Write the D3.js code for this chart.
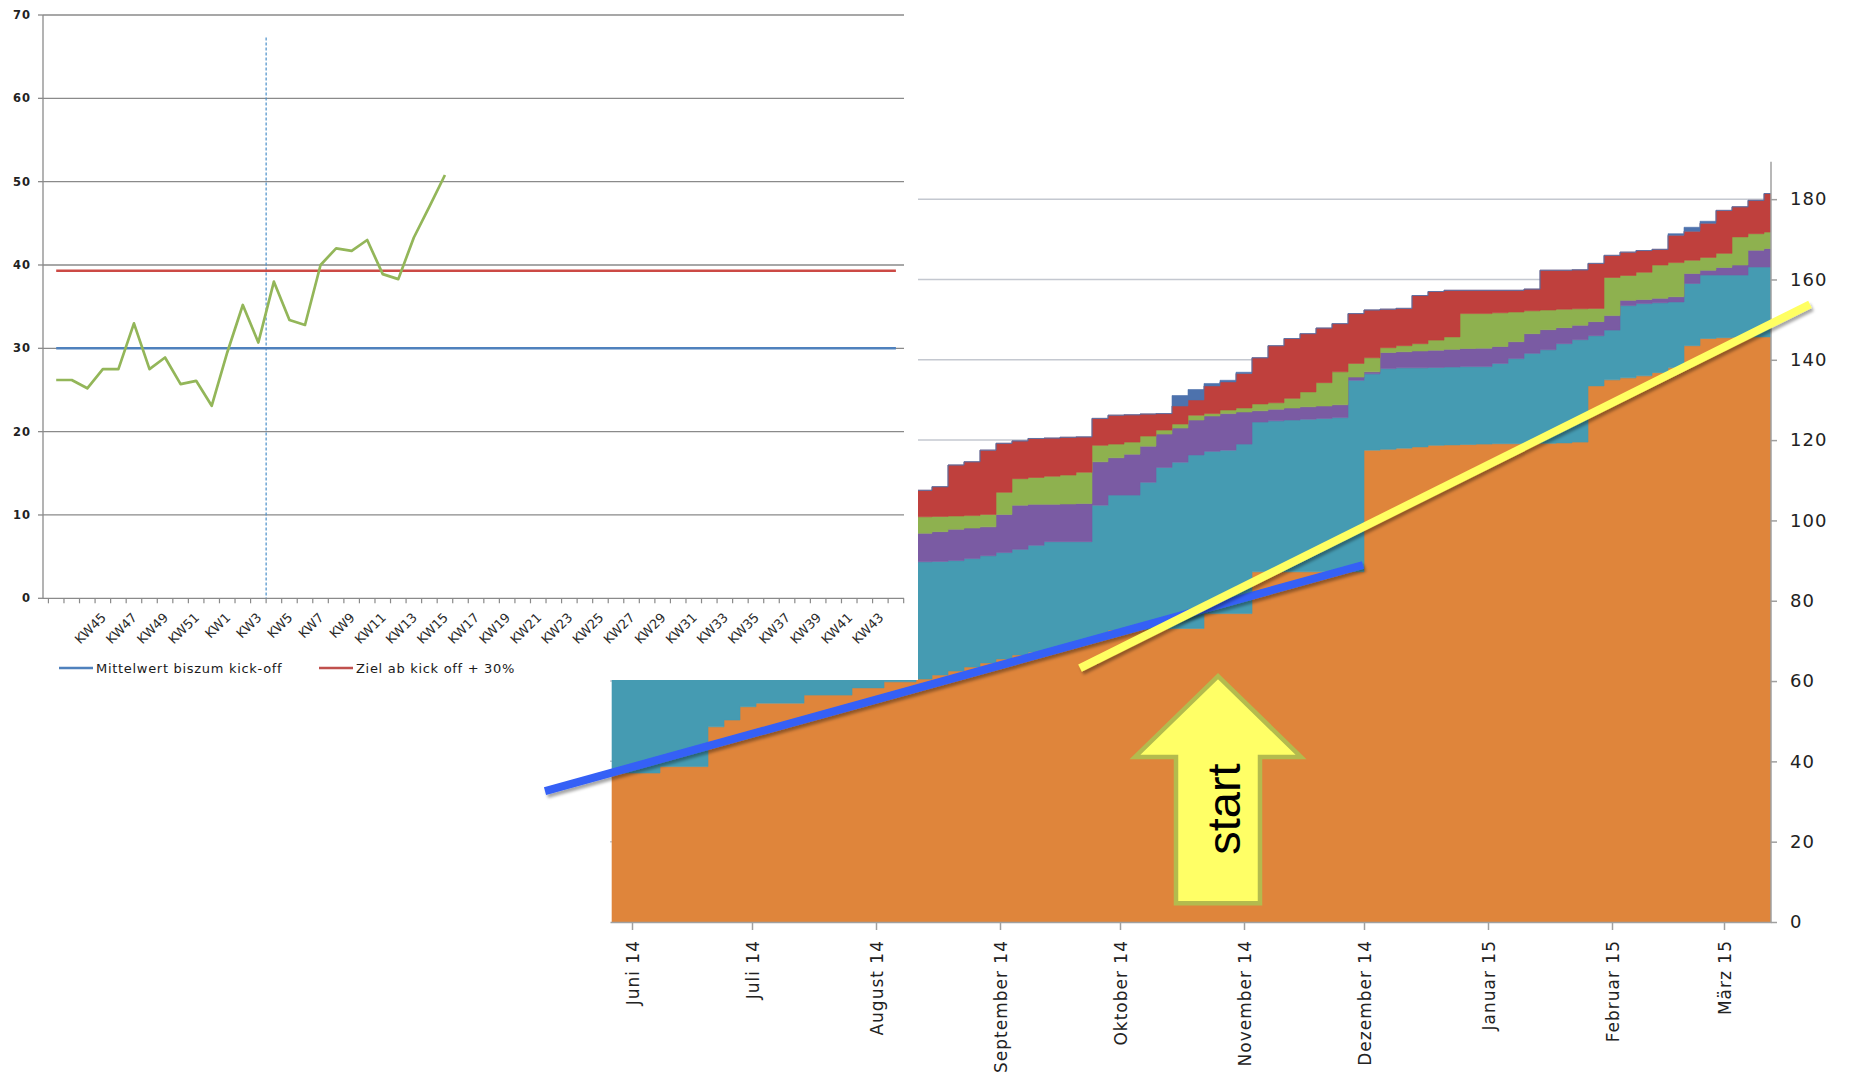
<!DOCTYPE html>
<html lang="de">
<head>
<meta charset="utf-8">
<script src="https://d3js.org/d3.v7.min.js"></script>
<style>
  body { margin: 0; background: #fff; }
  svg { display: block; }
  text { font-family: "DejaVu Sans", sans-serif; }
</style>
</head>
<body>
<svg id="chart" width="1854" height="1073"></svg>
<script>
// ---------- left chart: weekly values ----------
var weeks = ["KW42","KW43","KW44","KW45","KW46","KW47","KW48","KW49","KW50","KW51","KW52",
  "KW1","KW2","KW3","KW4","KW5","KW6","KW7","KW8","KW9","KW10","KW11","KW12","KW13","KW14","KW15",
  "KW16","KW17","KW18","KW19","KW20","KW21","KW22","KW23","KW24","KW25","KW26","KW27","KW28","KW29",
  "KW30","KW31","KW32","KW33","KW34","KW35","KW36","KW37","KW38","KW39","KW40","KW41","KW42b","KW43b","KW44b"];
var weekLabels = ["KW45","KW47","KW49","KW51","KW1","KW3","KW5","KW7","KW9","KW11","KW13","KW15",
  "KW17","KW19","KW21","KW23","KW25","KW27","KW29","KW31","KW33","KW35","KW37","KW39","KW41","KW43b"];
var weeklyValues = [26.2, 26.2, 25.2, 27.5, 27.5, 33.0, 27.5, 28.9, 25.7, 26.1, 23.1, 29.5, 35.2,
  30.7, 38.0, 33.4, 32.8, 40.0, 42.0, 41.7, 43.0, 38.9, 38.3, 43.3, 47.0, 50.8];
var meanBeforeKickoff = 30.0;
var targetAfterKickoff = 39.3;
var kickoffBetween = ["KW3", "KW4"];
var kickoffLineTop = 67.3;
var leftYTicks = [0, 10, 20, 30, 40, 50, 60, 70];
var legendItems = [
  { label: "Mittelwert biszum kick-off", color: "#4f81bd" },
  { label: "Ziel ab kick off + 30%", color: "#c0504d" }
];

// ---------- right chart: stacked series, one value every 4 days from 27.05.2014 ----------
var orangeValues = [37.1, 37.1, 37.1, 38.7, 38.7, 38.7, 48.6, 50.3, 53.6, 54.5, 54.5, 54.5, 56.5, 56.5, 56.5, 58.3, 58.3, 59.8, 59.8,
  60.5, 61.5, 62.5, 63.5, 64.5, 65.5, 66.5, 67.2, 68.0, 68.5, 69.5,
  71.0, 72.7, 72.7, 72.9, 73.0, 73.1, 73.1, 76.8, 76.8, 76.8,
  87.2, 87.2, 87.2, 87.2, 87.2, 87.2, 87.2,
  117.5, 117.7, 118.0, 118.3, 118.7, 118.8, 118.9, 119.0, 119.1, 119.1, 119.2, 119.2, 119.3, 119.5,
  133.5, 135.0, 135.5, 136.0, 136.8, 138.0, 143.5, 145.3, 145.5, 145.6, 145.7, 145.7, 145.7];
var tealValues = [40.9, 40.9, 41.9, 40.3, 41.3, 41.3, 32.4, 30.7, 28.4, 28.5, 29.5, 29.5, 28.5, 29.5, 29.5, 28.7, 29.7, 28.2, 29.2,
  29.2, 28.3, 27.5, 27.0, 26.7, 26.5, 26.3, 26.6, 26.7, 26.2, 25.2,
  32.8, 33.6, 33.6, 36.6, 40.2, 41.4, 43.2, 40.4, 40.7, 42.2,
  37.3, 37.6, 37.8, 38.0, 38.2, 38.4, 47.7,
  19.0, 20.1, 20.0, 19.7, 19.4, 19.4, 19.4, 19.3, 20.0, 21.2, 22.4, 23.3, 24.7, 25.5,
  12.5, 12.4, 18.0, 18.0, 17.4, 16.4, 15.5, 15.8, 15.6, 15.5, 17.4, 17.4, 17.4];
var purpleValues = [7.0, 7.0, 7.0, 7.0, 7.0, 7.0, 7.0, 7.0, 7.0, 7.0, 7.0, 7.0, 7.0, 7.0, 7.0, 7.0, 7.0, 7.0, 7.0,
  7.1, 7.4, 7.8, 7.6, 7.2, 9.5, 11.0, 10.2, 9.3, 9.4, 9.5,
  10.8, 9.3, 10.2, 9.0, 8.3, 8.5, 8.7, 8.8, 9.1, 8.0,
  2.8, 2.9, 3.0, 3.1, 3.1, 3.2, 0.8,
  0.5, 4.0, 4.0, 4.2, 4.3, 4.4, 4.5, 4.6, 4.2, 4.2, 4.9, 5.0, 4.0, 3.6,
  3.5, 3.6, 1.3, 1.0, 1.1, 1.3, 2.5, 1.2, 1.9, 2.5, 4.2, 4.6, 4.6];
var greenValues = [3.0, 3.0, 3.0, 3.0, 3.0, 3.0, 3.0, 3.0, 3.0, 3.0, 3.0, 3.0, 3.0, 3.0, 3.0, 3.0, 3.0, 3.0, 3.0,
  4.1, 3.8, 3.3, 3.1, 3.1, 5.5, 6.6, 6.7, 7.0, 7.2, 7.8,
  4.1, 3.4, 3.0, 2.5, 1.0, 1.0, 1.2, 0.6, 0.9, 1.0,
  1.7, 1.6, 2.4, 3.7, 5.8, 8.2, 3.4,
  3.5, 1.2, 1.5, 1.8, 2.5, 3.1, 8.7, 8.6, 8.4, 7.4, 5.7, 4.9, 4.6, 4.1,
  3.3, 9.5, 6.2, 6.8, 8.3, 8.5, 3.3, 3.2, 3.5, 7.0, 4.1, 4.1, 4.1];
var redValues = [7.0, 7.0, 7.0, 7.0, 7.0, 7.0, 7.0, 7.0, 7.0, 7.0, 7.0, 7.0, 7.0, 7.0, 7.0, 7.0, 7.0, 7.0, 7.0,
  6.6, 7.4, 12.7, 13.4, 16.0, 12.2, 9.4, 9.7, 9.5, 9.4, 8.8,
  6.7, 7.2, 6.8, 5.5, 4.1, 4.5, 3.8, 6.9, 7.0, 8.6,
  11.5, 14.2, 14.9, 14.5, 13.6, 12.0, 12.4,
  11.9, 9.6, 9.3, 12.0, 12.1, 11.6, 5.8, 5.8, 5.6, 5.4, 5.4, 9.9, 9.7, 9.7,
  11.2, 5.5, 5.8, 5.4, 3.9, 6.8, 7.2, 8.5, 10.7, 7.5, 8.3, 9.6, 10.0];
var blueValues = [0, 0, 0, 0, 0, 0, 0, 0, 0, 0, 0, 0, 0, 0, 0, 0, 0, 0, 0,
  0, 0, 0, 0, 0, 0, 0, 0, 0, 0, 0,
  0, 0, 0, 0, 0, 2.6, 2.6, 0.6, 0.4, 0.3,
  0, 0, 0, 0, 0, 0, 0,
  0, 0, 0, 0, 0, 0, 0, 0, 0, 0, 0, 0, 0, 0,
  0, 0, 0, 0, 0, 0.4, 1.0, 0.5, 0, 0, 0, 0, 0];
var seriesKeys = ["orange", "teal", "purple", "green", "red", "blue"];
var seriesColors = ["#df853b", "#459bb2", "#7a5ba3", "#8eb14f", "#bf403d", "#4d72ad"];
var rightYTicks = [0, 20, 40, 60, 80, 100, 120, 140, 160, 180];

// hand-drawn trend lines and the arrow (in date / value units)
var blueTrend = [{ date: new Date(2014, 4, 10, 6), value: 32.6 }, { date: new Date(2014, 10, 30, 18), value: 88.9 }];
var yellowTrend = [{ date: new Date(2014, 8, 21), value: 63.2 }, { date: new Date(2015, 2, 22, 12), value: 153.8 }];
var startArrow = { date: new Date(2014, 9, 25, 12), tip: 61.2, headBase: 41.1, base: 4.7, label: "start" };

var svg = d3.select("#chart");
var defs = svg.append("defs");
defs.append("clipPath").attr("id", "plotClip")
  .append("rect").attr("x", 610).attr("y", 150).attr("width", 1161).attr("height", 772);
var shadow = defs.append("filter").attr("id", "shadow")
  .attr("x", "-10%").attr("y", "-50%").attr("width", "120%").attr("height", "200%");
shadow.append("feDropShadow").attr("dx", 2).attr("dy", 3).attr("stdDeviation", 1.5)
  .attr("flood-color", "#000").attr("flood-opacity", 0.35);

// ================= right chart =================
var dates = d3.timeDay.range(new Date(2014, 4, 27), new Date(2015, 2, 16), 4);
var rows = dates.map(function (d, i) {
  return { date: d, orange: orangeValues[i], teal: tealValues[i], purple: purpleValues[i],
           green: greenValues[i], red: redValues[i], blue: blueValues[i] };
});

var xR = d3.scaleTime().domain([new Date(2014, 4, 26, 12), new Date(2015, 2, 12, 18)]).range([610, 1771]);
var yR = d3.scaleLinear().domain([0, 190]).range([922, 159]);

var right = svg.append("g");

right.append("g").selectAll("line").data(rightYTicks.slice(1)).enter().append("line")
  .attr("x1", 610).attr("x2", 1771)
  .attr("y1", function (d) { return yR(d); }).attr("y2", function (d) { return yR(d); })
  .attr("stroke", "#c4c8d0").attr("stroke-width", 1.5);

var stacked = d3.stack().keys(seriesKeys)(rows);
var area = d3.area()
  .curve(d3.curveStepAfter)
  .x(function (d) { return xR(d.data.date); })
  .y0(function (d) { return yR(d[0]); })
  .y1(function (d) { return yR(d[1]); });

right.append("g").attr("clip-path", "url(#plotClip)")
  .selectAll("path").data(stacked).enter().append("path")
  .attr("d", area)
  .attr("fill", function (d, i) { return seriesColors[i]; })
  .attr("stroke", function (d, i) { return seriesColors[i]; })
  .attr("stroke-width", 0.6);

var deLocale = d3.timeFormatLocale({
  dateTime: "%A, der %e. %B %Y, %X", date: "%d.%m.%Y", time: "%H:%M:%S",
  periods: ["AM", "PM"],
  days: ["Sonntag", "Montag", "Dienstag", "Mittwoch", "Donnerstag", "Freitag", "Samstag"],
  shortDays: ["So", "Mo", "Di", "Mi", "Do", "Fr", "Sa"],
  months: ["Januar", "Februar", "März", "April", "Mai", "Juni", "Juli", "August", "September", "Oktober", "November", "Dezember"],
  shortMonths: ["Jan", "Feb", "Mrz", "Apr", "Mai", "Jun", "Jul", "Aug", "Sep", "Okt", "Nov", "Dez"]
});

var xAxisR = right.append("g").attr("transform", "translate(0,922)")
  .call(d3.axisBottom(xR).ticks(d3.timeMonth.every(1)).tickFormat(deLocale.format("%B %y")).tickSize(8).tickSizeOuter(0));
xAxisR.select(".domain").attr("stroke", "#a0a0a0").attr("stroke-width", 1.5);
xAxisR.selectAll(".tick line").attr("stroke", "#a0a0a0").attr("stroke-width", 1.5);
xAxisR.selectAll(".tick text")
  .attr("transform", "rotate(-90)")
  .attr("text-anchor", "end")
  .attr("x", -18).attr("y", 0).attr("dy", "0.36em")
  .style("font-family", "'DejaVu Sans', sans-serif")
  .style("font-size", "17px").style("letter-spacing", "1px").attr("fill", "#222");

var yAxisR = right.append("g").attr("transform", "translate(1771,0)")
  .call(d3.axisRight(yR).tickValues(rightYTicks).tickSize(6).tickPadding(13).tickSizeOuter(0));
yAxisR.select(".domain").attr("stroke", "#a0a0a0").attr("stroke-width", 1.5)
  .attr("d", "M0," + yR(189.3) + "V" + yR(0));
yAxisR.selectAll(".tick line").attr("stroke", "#a0a0a0").attr("stroke-width", 1.5);
yAxisR.selectAll(".tick text")
  .style("font-family", "'DejaVu Sans', sans-serif")
  .style("font-size", "18px").style("letter-spacing", "1px").attr("fill", "#222");

// ================= left chart (white panel on top) =================
var left = svg.append("g");
left.append("rect").attr("x", 0).attr("y", 0).attr("width", 918).attr("height", 680).attr("fill", "#fff");

var xL = d3.scalePoint().domain(weeks).range([56.2, 895.9]);
var yL = d3.scaleLinear().domain([0, 70]).range([598.3, 15]);
var stepL = xL.step();

left.append("g").selectAll("line").data(leftYTicks).enter().append("line")
  .attr("x1", 43).attr("x2", 904)
  .attr("y1", function (d) { return yL(d); }).attr("y2", function (d) { return yL(d); })
  .attr("stroke", "#8a8a8a").attr("stroke-width", 1.3);

left.append("line").attr("x1", 43).attr("x2", 43).attr("y1", yL(70)).attr("y2", yL(0))
  .attr("stroke", "#8a8a8a").attr("stroke-width", 1.3);
left.append("g").selectAll("line").data(leftYTicks).enter().append("line")
  .attr("x1", 38).attr("x2", 43)
  .attr("y1", function (d) { return yL(d); }).attr("y2", function (d) { return yL(d); })
  .attr("stroke", "#8a8a8a").attr("stroke-width", 1.3);
left.append("g").selectAll("text").data(leftYTicks).enter().append("text")
  .attr("x", 31).attr("y", function (d) { return yL(d); }).attr("dy", "0.35em")
  .attr("text-anchor", "end").attr("font-size", 11.5).attr("font-weight", "bold")
  .attr("letter-spacing", "1px").attr("fill", "#222")
  .text(function (d) { return d; });

// x axis ticks sit between categories
var tickIdx = d3.range(weeks.length + 1);
left.append("g").selectAll("line").data(tickIdx).enter().append("line")
  .attr("x1", function (k) { return xL(weeks[0]) + stepL * (k - 0.5); })
  .attr("x2", function (k) { return xL(weeks[0]) + stepL * (k - 0.5); })
  .attr("y1", yL(0)).attr("y2", yL(0) + 5)
  .attr("stroke", "#8a8a8a").attr("stroke-width", 1.2);
left.append("g").selectAll("text").data(weekLabels).enter().append("text")
  .attr("transform", function (d) { return "translate(" + (xL(d) + 4) + "," + (yL(0) + 20) + ") rotate(-45)"; })
  .attr("text-anchor", "end").attr("font-size", 13).attr("fill", "#2a2a2a")
  .text(function (d) { return d.replace("b", ""); });

// kick-off marker
var kickX = (xL(kickoffBetween[0]) + xL(kickoffBetween[1])) / 2;
left.append("line").attr("x1", kickX).attr("x2", kickX).attr("y1", yL(kickoffLineTop)).attr("y2", yL(0))
  .attr("stroke", "#4a8fc8").attr("stroke-width", 1.2).attr("stroke-dasharray", "3,2");

// reference lines
left.append("line").attr("x1", xL(weeks[0])).attr("x2", xL(weeks[weeks.length - 1]))
  .attr("y1", yL(meanBeforeKickoff)).attr("y2", yL(meanBeforeKickoff))
  .attr("stroke", legendItems[0].color).attr("stroke-width", 2.6);
left.append("line").attr("x1", xL(weeks[0])).attr("x2", xL(weeks[weeks.length - 1]))
  .attr("y1", yL(targetAfterKickoff)).attr("y2", yL(targetAfterKickoff))
  .attr("stroke", "#cc4a45").attr("stroke-width", 2.6);

var lineL = d3.line()
  .x(function (d, i) { return xL(weeks[i]); })
  .y(function (d) { return yL(d); });
left.append("path").datum(weeklyValues).attr("d", lineL)
  .attr("fill", "none").attr("stroke", "#93b659").attr("stroke-width", 2.7).attr("stroke-linejoin", "round");

// legend
var legendX = [59, 319];
var legend = left.append("g").selectAll("g").data(legendItems).enter().append("g")
  .attr("transform", function (d, i) { return "translate(" + legendX[i] + ",668)"; });
legend.append("line").attr("x1", 0).attr("x2", 34).attr("y1", 0).attr("y2", 0)
  .attr("stroke", function (d) { return d.color; }).attr("stroke-width", 2.6);
legend.append("text").attr("x", 37).attr("y", 5).attr("font-size", 13).attr("letter-spacing", "0.7px")
  .attr("fill", "#1a1a1a").text(function (d) { return d.label; });

// ================= annotations =================
var trendLine = d3.line()
  .x(function (d) { return xR(d.date); })
  .y(function (d) { return yR(d.value); });

var ax = xR(startArrow.date), tipY = yR(startArrow.tip), headY = yR(startArrow.headBase), baseY = yR(startArrow.base);
var arrowPts = [[ax, tipY], [ax + 83, headY], [ax + 42, headY], [ax + 42, baseY],
                [ax - 42, baseY], [ax - 42, headY], [ax - 83, headY]];
svg.append("path").attr("d", d3.line()(arrowPts) + "Z")
  .attr("fill", "#ffff66").attr("stroke", "#b3bb4e").attr("stroke-width", 4.5).attr("stroke-linejoin", "miter");
svg.append("text")
  .attr("transform", "translate(" + (ax + 22) + "," + ((headY + baseY) / 2 - 21) + ") rotate(-90)")
  .attr("text-anchor", "middle")
  .style("font-family", "'Liberation Sans', Arial, sans-serif").style("font-size", "47px")
  .attr("fill", "#000").text(startArrow.label);

svg.append("path").datum(blueTrend).attr("d", trendLine)
  .attr("stroke", "#3560f6").attr("stroke-width", 8).attr("fill", "none").attr("filter", "url(#shadow)");
svg.append("path").datum(yellowTrend).attr("d", trendLine)
  .attr("stroke", "#ffff62").attr("stroke-width", 8).attr("fill", "none").attr("filter", "url(#shadow)");
</script>
</body>
</html>
